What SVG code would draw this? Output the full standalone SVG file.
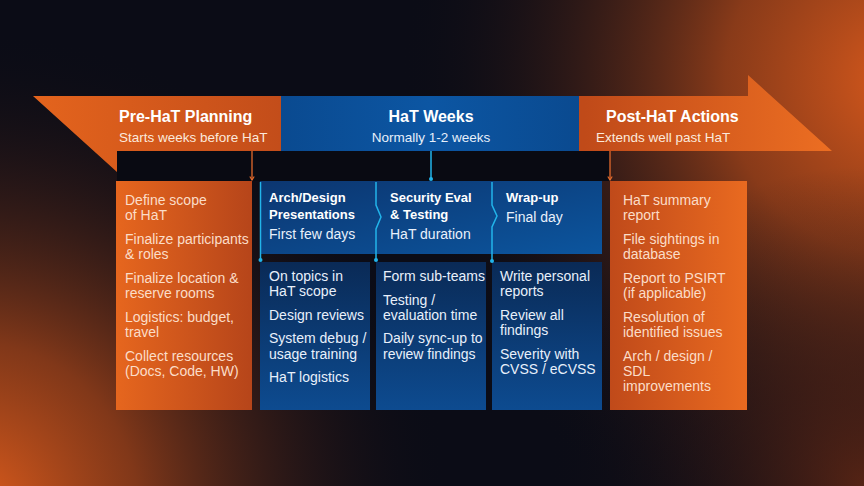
<svg xmlns="http://www.w3.org/2000/svg" width="864" height="486" viewBox="0 0 864 486">
<defs>
<radialGradient id="glowTR" cx="900" cy="80" r="500" gradientUnits="userSpaceOnUse">
<stop offset="0" stop-color="#d8591c" stop-opacity="1"/>
<stop offset="0.35" stop-color="#a8461a" stop-opacity="0.8"/>
<stop offset="1" stop-color="#0b0c16" stop-opacity="0"/>
</radialGradient>
<radialGradient id="glowBL" cx="-30" cy="510" r="480" gradientUnits="userSpaceOnUse">
<stop offset="0" stop-color="#e05d1c" stop-opacity="1"/>
<stop offset="0.35" stop-color="#a8461a" stop-opacity="0.75"/>
<stop offset="1" stop-color="#0b0c16" stop-opacity="0"/>
</radialGradient>
<radialGradient id="glowBR" cx="864" cy="486" r="320" gradientUnits="userSpaceOnUse">
<stop offset="0" stop-color="#6a2a14" stop-opacity="0.75"/>
<stop offset="1" stop-color="#0b0c16" stop-opacity="0"/>
</radialGradient>
<linearGradient id="bandOrange" x1="33" y1="0" x2="832" y2="0" gradientUnits="userSpaceOnUse">
<stop offset="0" stop-color="#e4641d"/>
<stop offset="0.31" stop-color="#c34d1a"/>
<stop offset="0.69" stop-color="#c04a19"/>
<stop offset="1" stop-color="#ec6e22"/>
</linearGradient>
<linearGradient id="bandBlue" x1="281" y1="0" x2="579" y2="0" gradientUnits="userSpaceOnUse">
<stop offset="0" stop-color="#0a4a90"/>
<stop offset="0.5" stop-color="#0c56a3"/>
<stop offset="1" stop-color="#0a4a90"/>
</linearGradient>
<linearGradient id="preBox" x1="0" y1="0" x2="1" y2="0">
<stop offset="0" stop-color="#e6661e"/>
<stop offset="1" stop-color="#b6451a"/>
</linearGradient>
<linearGradient id="postBox" x1="0" y1="0" x2="1" y2="0">
<stop offset="0" stop-color="#c04a1a"/>
<stop offset="1" stop-color="#e96a20"/>
</linearGradient>
<linearGradient id="topRow" x1="0" y1="0" x2="1" y2="1">
<stop offset="0" stop-color="#0c3670"/>
<stop offset="1" stop-color="#0c559e"/>
</linearGradient>
<linearGradient id="lowBox" x1="0" y1="0" x2="0" y2="1">
<stop offset="0" stop-color="#0a2a56"/>
<stop offset="1" stop-color="#0d4b90"/>
</linearGradient>
<marker id="arrO" viewBox="0 0 6 6" refX="5" refY="3" markerWidth="6" markerHeight="6" markerUnits="userSpaceOnUse" orient="auto">
<path d="M1.5,0.8 L5,3 L1.5,5.2" fill="none" stroke="#e36a2c" stroke-width="1.2"/>
</marker>
<marker id="arrC" viewBox="0 0 6 6" refX="3" refY="3" markerWidth="6" markerHeight="6" markerUnits="userSpaceOnUse">
<circle cx="3" cy="3" r="2" fill="#22b4ea"/>
</marker>
<style>
.t{font-family:"Liberation Sans",Arial,sans-serif;}
.h{font-size:16px;font-weight:bold;fill:#ffffff;}
.s{font-size:13.5px;fill:#fbe9dc;}
.sb{font-size:13.5px;fill:#e6effa;}
.bt{font-size:13px;font-weight:bold;fill:#ffffff;}
.bo{font-size:14px;fill:#fbddc8;}
.bb{font-size:14px;fill:#e8f0fb;}
.co{stroke:#e36a2c;stroke-width:1.3;fill:none;}
.cc{stroke:#22b4ea;stroke-width:1.5;fill:none;}
</style>
</defs>

<g id="background">
<rect x="0" y="0" width="864" height="486" fill="#0b0c16"/>
<rect x="0" y="0" width="864" height="486" fill="url(#glowTR)"/>
<rect x="0" y="0" width="864" height="486" fill="url(#glowBL)"/>
<rect x="0" y="0" width="864" height="486" fill="url(#glowBR)"/>
</g>

<g id="timeline-arrow">
<polygon points="33,96 748,96 748,75 832,151 117,151 117,172" fill="url(#bandOrange)"/>
<rect x="117" y="151" width="493" height="30" fill="#090a12"/>
</g>

<g id="pre-hat-header">
<text class="t h" x="119" y="122">Pre-HaT Planning</text>
<text class="t s" x="119" y="142">Starts weeks before HaT</text>
</g>

<g id="hat-weeks-header">
<rect x="281" y="96" width="298" height="55" fill="url(#bandBlue)"/>
<text class="t h" x="431" y="122" text-anchor="middle">HaT Weeks</text>
<text class="t sb" x="431" y="142" text-anchor="middle">Normally 1-2 weeks</text>
</g>

<g id="post-hat-header">
<text class="t h" x="606" y="122">Post-HaT Actions</text>
<text class="t s" x="596" y="142">Extends well past HaT</text>
</g>

<g id="pre-hat-box">
<rect x="116" y="181" width="136" height="229" fill="url(#preBox)"/>
<text class="t bo" x="125" y="205">Define scope</text>
<text class="t bo" x="125" y="220">of HaT</text>
<text class="t bo" x="125" y="244">Finalize participants</text>
<text class="t bo" x="125" y="259">&amp; roles</text>
<text class="t bo" x="125" y="283">Finalize location &amp;</text>
<text class="t bo" x="125" y="298">reserve rooms</text>
<text class="t bo" x="125" y="322">Logistics: budget,</text>
<text class="t bo" x="125" y="337">travel</text>
<text class="t bo" x="125" y="361">Collect resources</text>
<text class="t bo" x="125" y="376">(Docs, Code, HW)</text>
</g>

<g id="phase-row">
<rect x="260" y="181" width="342" height="73" fill="url(#topRow)"/>
</g>

<g id="arch-design">
<text class="t bt" x="269" y="202">Arch/Design</text>
<text class="t bt" x="269" y="219">Presentations</text>
<text class="t bb" x="269" y="239">First few days</text>
</g>

<g id="security-eval">
<text class="t bt" x="390" y="202">Security Eval</text>
<text class="t bt" x="390" y="219">&amp; Testing</text>
<text class="t bb" x="390" y="239">HaT duration</text>
</g>

<g id="wrap-up">
<text class="t bt" x="506" y="202">Wrap-up</text>
<text class="t bb" x="506" y="222">Final day</text>
</g>

<g id="arch-design-tasks">
<rect x="260" y="262" width="110" height="148" fill="url(#lowBox)"/>
<text class="t bb" x="269" y="281">On topics in</text>
<text class="t bb" x="269" y="296">HaT scope</text>
<text class="t bb" x="269" y="320">Design reviews</text>
<text class="t bb" x="269" y="343">System debug /</text>
<text class="t bb" x="269" y="359">usage training</text>
<text class="t bb" x="269" y="382">HaT logistics</text>
</g>

<g id="security-eval-tasks">
<rect x="376" y="262" width="110" height="148" fill="url(#lowBox)"/>
<text class="t bb" x="383" y="281">Form sub-teams</text>
<text class="t bb" x="383" y="305">Testing /</text>
<text class="t bb" x="383" y="320">evaluation time</text>
<text class="t bb" x="383" y="343">Daily sync-up to</text>
<text class="t bb" x="383" y="359">review findings</text>
</g>

<g id="wrap-up-tasks">
<rect x="492" y="262" width="110" height="148" fill="url(#lowBox)"/>
<text class="t bb" x="500" y="281">Write personal</text>
<text class="t bb" x="500" y="296">reports</text>
<text class="t bb" x="500" y="320">Review all</text>
<text class="t bb" x="500" y="335">findings</text>
<text class="t bb" x="500" y="359">Severity with</text>
<text class="t bb" x="500" y="374">CVSS / eCVSS</text>
</g>

<g id="post-hat-box">
<rect x="610" y="181" width="137" height="229" fill="url(#postBox)"/>
<text class="t bo" x="623" y="205">HaT summary</text>
<text class="t bo" x="623" y="220">report</text>
<text class="t bo" x="623" y="244">File sightings in</text>
<text class="t bo" x="623" y="259">database</text>
<text class="t bo" x="623" y="283">Report to PSIRT</text>
<text class="t bo" x="623" y="298">(if applicable)</text>
<text class="t bo" x="623" y="322">Resolution of</text>
<text class="t bo" x="623" y="337">identified issues</text>
<text class="t bo" x="623" y="361">Arch / design /</text>
<text class="t bo" x="623" y="376">SDL</text>
<text class="t bo" x="623" y="391">improvements</text>
</g>

<g id="connectors">
<line class="co" x1="252" y1="151" x2="252" y2="180" marker-end="url(#arrO)"/>
<line class="co" x1="610" y1="151" x2="610" y2="180" marker-end="url(#arrO)"/>
<line class="cc" x1="431" y1="151" x2="431" y2="179" marker-end="url(#arrC)"/>
<line class="cc" x1="260.5" y1="182" x2="260.5" y2="260" marker-end="url(#arrC)"/>
<polyline class="cc" points="376,182 376,205 381,217 376,229 376,260" marker-end="url(#arrC)"/>
<polyline class="cc" points="492,182 492,205 497,216 492,227 492,261" marker-end="url(#arrC)"/>
</g>
</svg>
